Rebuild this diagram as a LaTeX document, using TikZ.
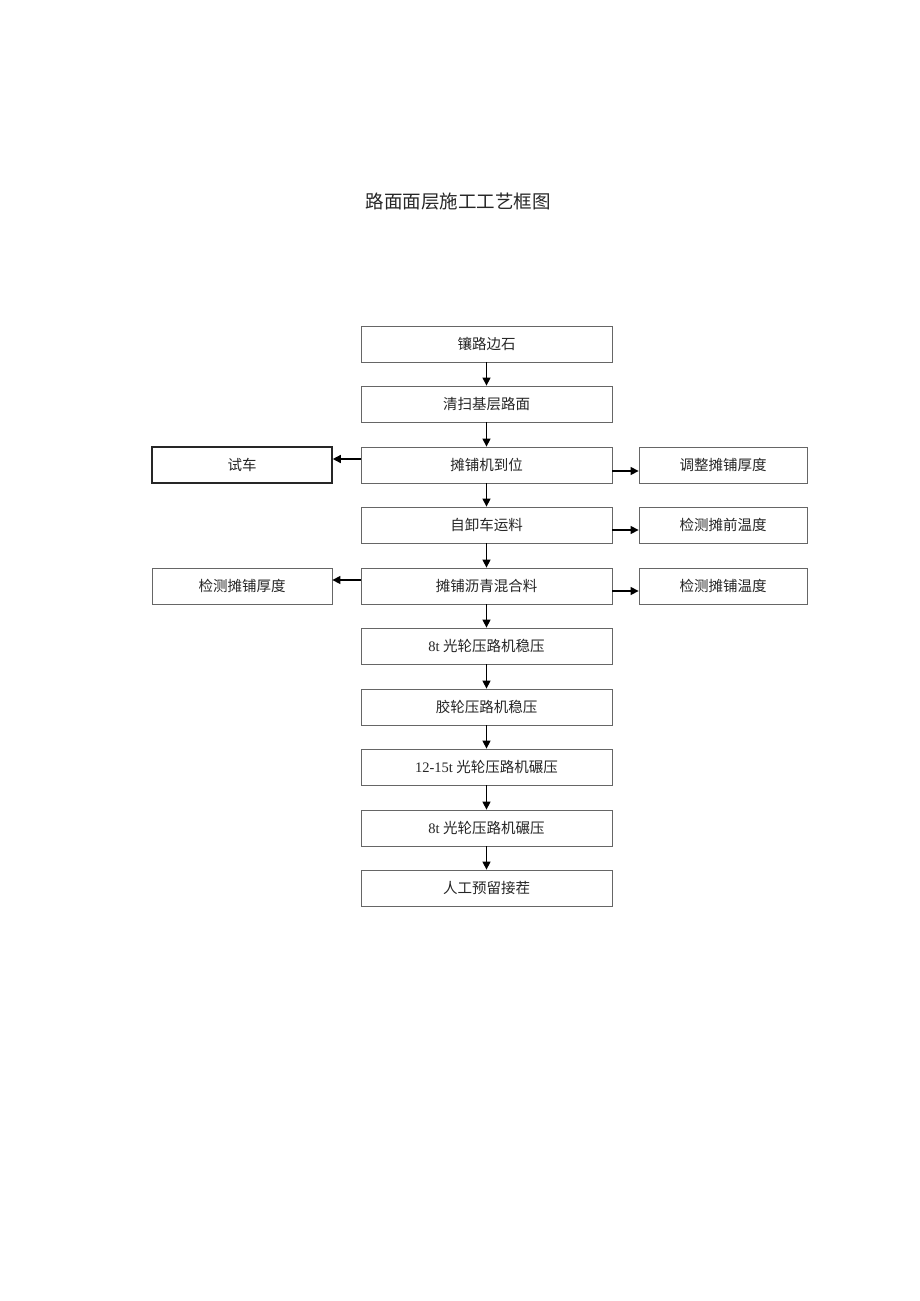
\documentclass[tikz,border=0pt]{standalone}
\usepackage{fontspec}
\setmainfont{Liberation Serif}
\newfontfamily\cjk{Noto Sans CJK SC}
\usetikzlibrary{arrows.meta}
\begin{document}
\begin{tikzpicture}[x=1pt,y=-1pt,
  box/.style={draw=black!60,line width=0.8pt,minimum height=36pt,inner sep=0pt,font=\fontsize{14.5}{16}\selectfont,text=black!85},
  mainbox/.style={box,minimum width=251pt},
  leftbox/.style={box,minimum width=180pt},
  rightbox/.style={box,minimum width=168pt},
  arr/.style={line width=1.4pt,-{Triangle[length=8pt,width=8pt]}}]
\useasboundingbox[fill=white] (0,0) rectangle (920,1301);
\node[font=\fontsize{18.5}{20}\selectfont,text=black!85] (title) at (458,202) {\cjk 路面面层施工工艺框图};
\node[mainbox] (m1) at (486.5,344) {\cjk 镶路边石};
\node[mainbox] (m2) at (486.5,404) {\cjk 清扫基层路面};
\node[mainbox] (m3) at (486.5,465) {\cjk 摊铺机到位};
\node[mainbox] (m4) at (486.5,525) {\cjk 自卸车运料};
\node[mainbox] (m5) at (486.5,586) {\cjk 摊铺沥青混合料};
\node[mainbox] (m6) at (486.5,646) {8t {\cjk 光轮压路机稳压}};
\node[mainbox] (m7) at (486.5,707) {\cjk 胶轮压路机稳压};
\node[mainbox] (m8) at (486.5,767) {12-15t {\cjk 光轮压路机碾压}};
\node[mainbox] (m9) at (486.5,828) {8t {\cjk 光轮压路机碾压}};
\node[mainbox] (m10) at (486.5,888) {\cjk 人工预留接茬};
\node[leftbox,draw=black!85,line width=1.6pt] (l1) at (242,465) {\cjk 试车};
\node[leftbox] (l2) at (242,586) {\cjk 检测摊铺厚度};
\node[rightbox] (r1) at (723,465) {\cjk 调整摊铺厚度};
\node[rightbox] (r2) at (723,525) {\cjk 检测摊前温度};
\node[rightbox] (r3) at (723,586) {\cjk 检测摊铺温度};
\foreach \a/\b in {m1/m2,m2/m3,m3/m4,m4/m5,m5/m6,m6/m7,m7/m8,m8/m9,m9/m10}
  \draw[arr] (\a.south) -- (\b.north);
\draw[arr] ([yshift=6pt]m3.west) -- ([yshift=6pt]l1.east);
\draw[arr] ([yshift=6pt]m5.west) -- ([yshift=6pt]l2.east);
\draw[arr] ([yshift=-6pt]m3.east) -- ([yshift=-6pt]r1.west);
\draw[arr] ([yshift=-5pt]m4.east) -- ([yshift=-5pt]r2.west);
\draw[arr] ([yshift=-5pt]m5.east) -- ([yshift=-5pt]r3.west);
\end{tikzpicture}
\end{document}
